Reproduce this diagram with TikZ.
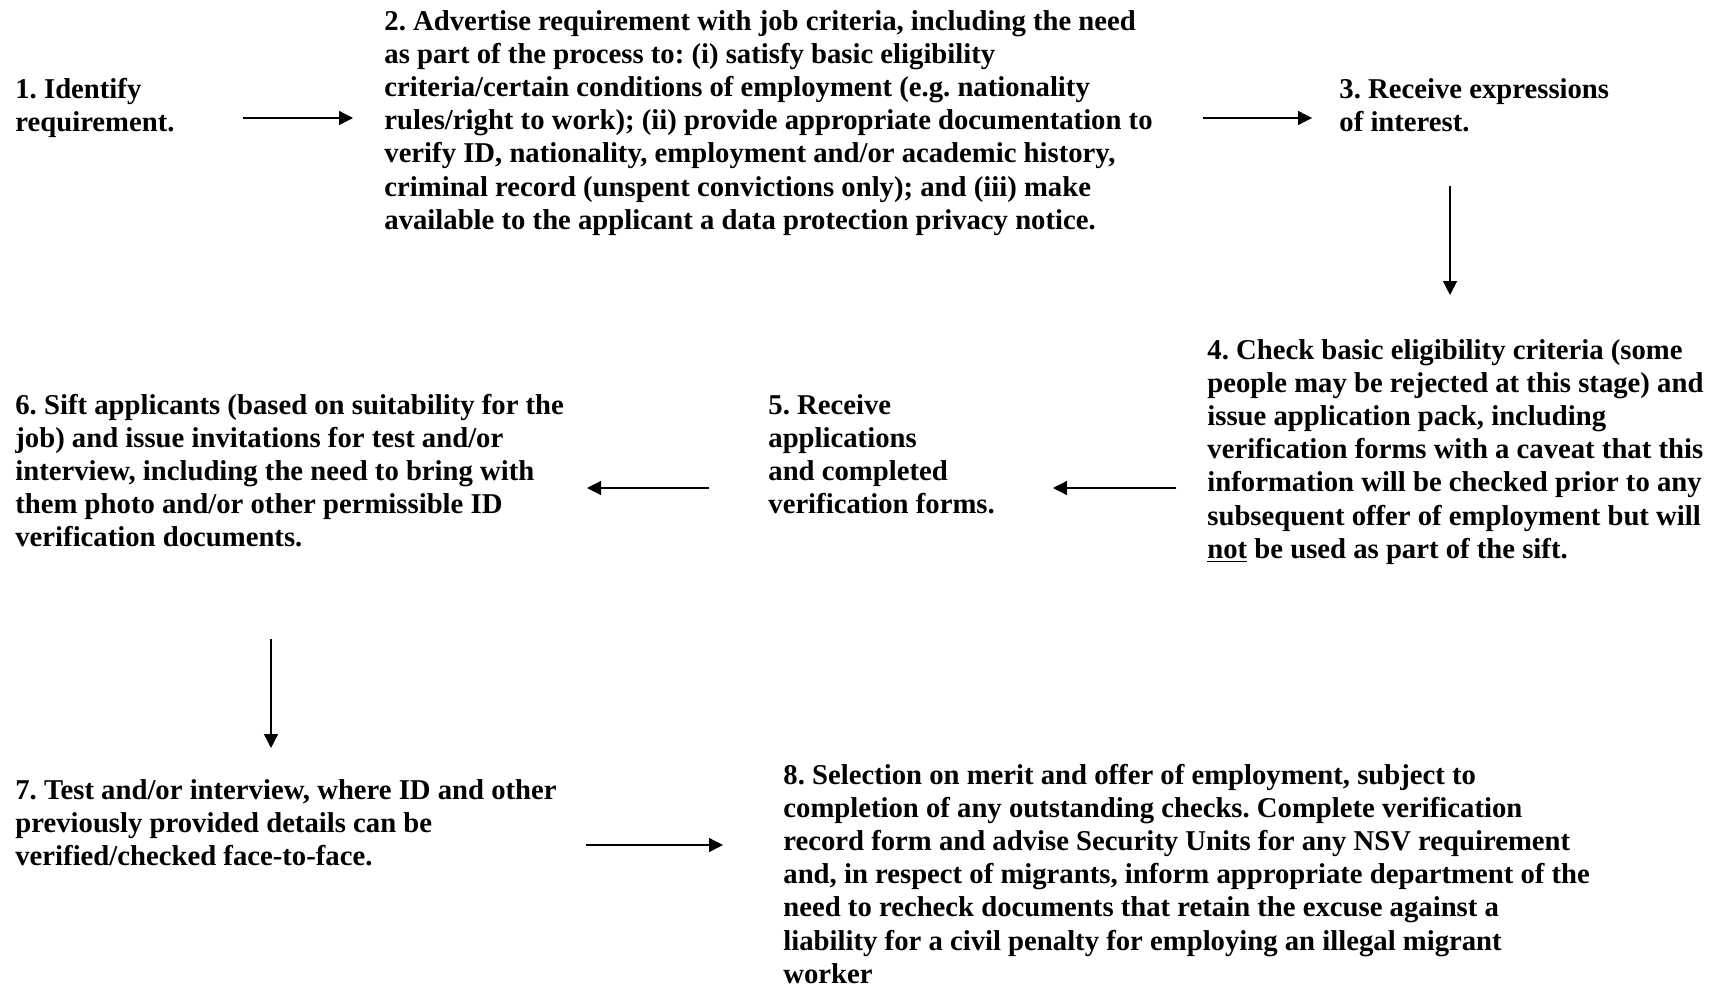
\documentclass[tikz,border=0pt]{standalone}
\usepackage{fontspec}
\setmainfont{Liberation Serif}
\usetikzlibrary{arrows.meta}
\tikzset{
  stepbox/.style={anchor=base west, inner sep=0pt, font=\bfseries\fontsize{14.35}{16.6}\selectfont},
  arr/.style={-{Triangle[length=7pt,width=7pt]}, line width=0.65pt}
}
\newcommand{\stxt}[1]{\parbox[t]{450pt}{\raggedright\frenchspacing #1}}
\begin{document}
\begin{tikzpicture}[x=0.5pt,y=-0.5pt]
\useasboundingbox (0,0) rectangle (1717,985);
\node[stepbox] (n1) at (15,98) {\stxt{1. Identify\\requirement.}};
\node[stepbox] (n2) at (384,30) {\stxt{2. Advertise requirement with job criteria, including the need\\
as part of the process to: (i) satisfy basic eligibility\\
criteria/certain conditions of employment (e.g. nationality\\
rules/right to work); (ii) provide appropriate documentation to\\
verify ID, nationality, employment and/or academic history,\\
criminal record (unspent convictions only); and (iii) make\\
available to the applicant a data protection privacy notice.}};
\node[stepbox] (n3) at (1339,98) {\stxt{3. Receive expressions\\of interest.}};
\node[stepbox] (n4) at (1207,359) {\stxt{4. Check basic eligibility criteria (some\\
people may be rejected at this stage) and\\
issue application pack, including\\
verification forms with a caveat that this\\
information will be checked prior to any\\
subsequent offer of employment but will\\
\underline{not} be used as part of the sift.}};
\node[stepbox] (n5) at (768,414) {\stxt{5. Receive\\applications\\and completed\\verification forms.}};
\node[stepbox] (n6) at (15,414) {\stxt{6. Sift applicants (based on suitability for the\\
job) and issue invitations for test and/or\\
interview, including the need to bring with\\
them photo and/or other permissible ID\\
verification documents.}};
\node[stepbox] (n7) at (15,799) {\stxt{7. Test and/or interview, where ID and other\\
previously provided details can be\\
verified/checked face-to-face.}};
\node[stepbox] (n8) at (783,784) {\stxt{8. Selection on merit and offer of employment, subject to\\
completion of any outstanding checks. Complete verification\\
record form and advise Security Units for any NSV requirement\\
and, in respect of migrants, inform appropriate department of the\\
need to recheck documents that retain the excuse against a\\
liability for a civil penalty for employing an illegal migrant\\
worker}};
\coordinate (a1s) at (243,118);  \coordinate (a1e) at (353,118);
\coordinate (a2s) at (1203,118); \coordinate (a2e) at (1312,118);
\coordinate (a3s) at (1450,186); \coordinate (a3e) at (1450,295);
\coordinate (a4s) at (1176,488); \coordinate (a4e) at (1053,488);
\coordinate (a5s) at (709,488);  \coordinate (a5e) at (587,488);
\coordinate (a6s) at (271,639);  \coordinate (a6e) at (271,748);
\coordinate (a7s) at (586,845);  \coordinate (a7e) at (723,845);
\draw[arr] (a1s) -- (a1e);
\draw[arr] (a2s) -- (a2e);
\draw[arr] (a3s) -- (a3e);
\draw[arr] (a4s) -- (a4e);
\draw[arr] (a5s) -- (a5e);
\draw[arr] (a6s) -- (a6e);
\draw[arr] (a7s) -- (a7e);
\end{tikzpicture}
\end{document}
